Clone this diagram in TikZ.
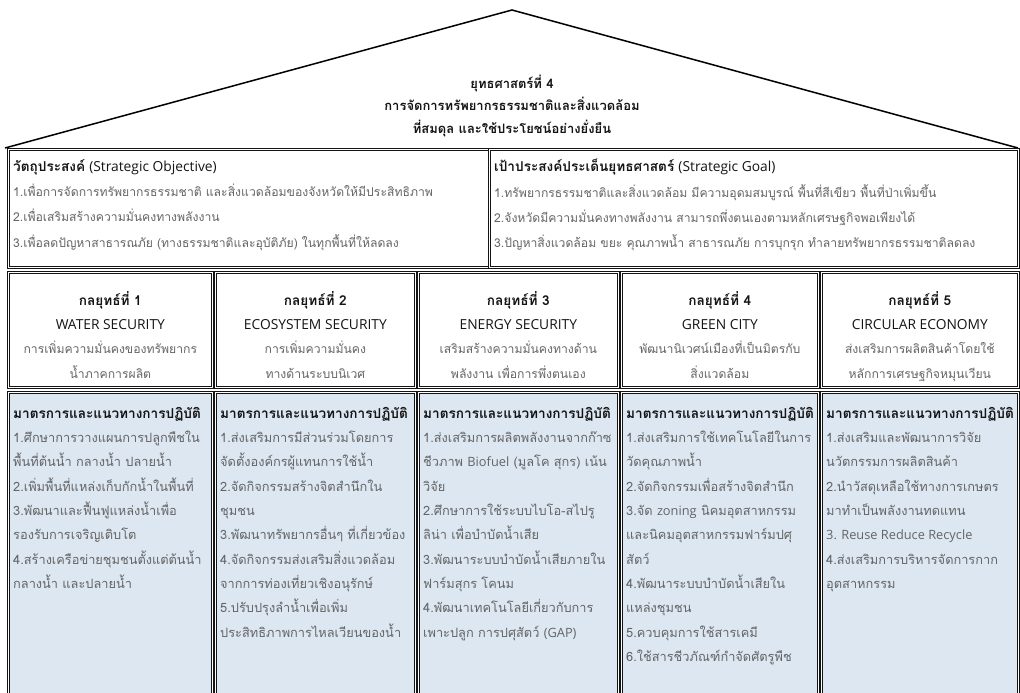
\documentclass[tikz,border=0pt]{standalone}
\usepackage{fontspec}
\setmainfont[Script=Thai]{Loma}
\newfontfamily\enfont{Open Sans}
\usetikzlibrary{positioning}
\definecolor{mblue}{RGB}{221,231,242}
\definecolor{mgray}{RGB}{100,100,100}
\definecolor{mdark}{RGB}{20,20,20}
\tikzset{framebox/.style = {draw=mdark, double, double distance=1.3pt, line width=0.7pt,
                            anchor=north west, inner sep=0}}
\tikzset{measbox/.style = {framebox, fill=mblue}}
\tikzset{headtext/.style = {font=\bfseries\fontsize{13}{22.5}\selectfont, text=mdark, align=center}}
\tikzset{bodytext/.style = {font=\fontsize{12.2}{25.3}\selectfont, text=mgray, align=left, inner sep=0}}
\tikzset{strattext/.style = {font=\fontsize{12.2}{24.3}\selectfont, text=mgray, align=center, inner sep=0}}
\tikzset{meastext/.style = {font=\fontsize{12.8}{24.3}\selectfont, text=mgray, align=left, inner sep=0}}
\newcommand{\hd}[1]{{\color{mdark}\bfseries\fontsize{13.6}{10}\selectfont #1}}
\newcommand{\en}[1]{{\enfont #1}}
\newcommand{\hden}[1]{{\color{mdark}\enfont\fontsize{13.8}{10}\selectfont #1}}

\begin{document}
\begin{tikzpicture}[x=1pt, y=-1pt]
      \useasboundingbox (0,0) rectangle (1020,693);
      \clip (0,0) rectangle (1020,693);
      % roof
      \draw [line width=1.5pt] (5,148) -- (512,10) -- (1018,148);
      \node [headtext] (title) at (512,106) {ยุทธศาสตร์ที่ 4\\การจัดการทรัพยากรธรรมชาติและสิ่งแวดล้อม\\ที่สมดุล และใช้ประโยชน์อย่างยั่งยืน};
      % objective and goal
      \node [framebox, minimum width=481pt, minimum height=118pt] (objbox) at (8,149) {};
      \node [framebox, minimum width=529pt, minimum height=118pt] (goalbox) at (489,149) {};
      \node [bodytext, below right=10pt and 5pt of objbox.north west] (objtext) {\hd{วัตถุประสงค์} \hden{(Strategic Objective)}\\
        1.เพื่อการจัดการทรัพยากรธรรมชาติ และสิ่งแวดล้อมของจังหวัดให้มีประสิทธิภาพ\\
        2.เพื่อเสริมสร้างความมั่นคงทางพลังงาน\\
        3.เพื่อลดปัญหาสาธารณภัย (ทางธรรมชาติและอุบัติภัย) ในทุกพื้นที่ให้ลดลง};
      \node [bodytext, below right=10pt and 5pt of goalbox.north west] (goaltext) {\hd{เป้าประสงค์ประเด็นยุทธศาสตร์} \hden{(Strategic Goal)}\\
        1.ทรัพยากรธรรมชาติและสิ่งแวดล้อม มีความอุดมสมบูรณ์ พื้นที่สีเขียว พื้นที่ป่าเพิ่มขึ้น\\
        2.จังหวัดมีความมั่นคงทางพลังงาน สามารถพึ่งตนเองตามหลักเศรษฐกิจพอเพียงได้\\
        3.ปัญหาสิ่งแวดล้อม ขยะ คุณภาพน้ำ สาธารณภัย การบุกรุก ทำลายทรัพยากรธรรมชาติลดลง};
      % five strategies
      \foreach \i/\xl/\w in {1/8/204, 2/215/200, 3/418/200, 4/621/197, 5/821/197} {
        \node [framebox, minimum width=\w pt, minimum height=115pt] (s\i) at (\xl,272) {};
        \node [measbox, minimum width=\w pt, minimum height=320pt] (m\i) at (\xl,392) {};
      }
      \node [strattext, below=19pt of s1.north] (st1) {\hd{กลยุทธ์ที่ 1}\\\hden{WATER SECURITY}\\การเพิ่มความมั่นคงของทรัพยากร\\น้ำภาคการผลิต};
      \node [strattext, below=19pt of s2.north] (st2) {\hd{กลยุทธ์ที่ 2}\\\hden{ECOSYSTEM SECURITY}\\การเพิ่มความมั่นคง\\ทางด้านระบบนิเวศ};
      \node [strattext, below=19pt of s3.north] (st3) {\hd{กลยุทธ์ที่ 3}\\\hden{ENERGY SECURITY}\\เสริมสร้างความมั่นคงทางด้าน\\พลังงาน เพื่อการพึ่งตนเอง};
      \node [strattext, below=19pt of s4.north] (st4) {\hd{กลยุทธ์ที่ 4}\\\hden{GREEN CITY}\\พัฒนานิเวศน์เมืองที่เป็นมิตรกับ\\สิ่งแวดล้อม};
      \node [strattext, below=19pt of s5.north] (st5) {\hd{กลยุทธ์ที่ 5}\\\hden{CIRCULAR ECONOMY}\\ส่งเสริมการผลิตสินค้าโดยใช้\\หลักการเศรษฐกิจหมุนเวียน};
      % measures
      \node [meastext, below right=15pt and 5pt of m1.north west] (mt1) {\hd{มาตรการและแนวทางการปฏิบัติ}\\
        1.ศึกษาการวางแผนการปลูกพืชใน\\พื้นที่ต้นน้ำ กลางน้ำ ปลายน้ำ\\
        2.เพิ่มพื้นที่แหล่งเก็บกักน้ำในพื้นที่\\
        3.พัฒนาและฟื้นฟูแหล่งน้ำเพื่อ\\รองรับการเจริญเติบโต\\
        4.สร้างเครือข่ายชุมชนตั้งแต่ต้นน้ำ\\กลางน้ำ และปลายน้ำ};
      \node [meastext, below right=15pt and 5pt of m2.north west] (mt2) {\hd{มาตรการและแนวทางการปฏิบัติ}\\
        1.ส่งเสริมการมีส่วนร่วมโดยการ\\จัดตั้งองค์กรผู้แทนการใช้น้ำ\\
        2.จัดกิจกรรมสร้างจิตสำนึกใน\\ชุมชน\\
        3.พัฒนาทรัพยากรอื่นๆ ที่เกี่ยวข้อง\\
        4.จัดกิจกรรมส่งเสริมสิ่งแวดล้อม\\จากการท่องเที่ยวเชิงอนุรักษ์\\
        5.ปรับปรุงลำน้ำเพื่อเพิ่ม\\ประสิทธิภาพการไหลเวียนของน้ำ};
      \node [meastext, below right=15pt and 5pt of m3.north west] (mt3) {\hd{มาตรการและแนวทางการปฏิบัติ}\\
        1.ส่งเสริมการผลิตพลังงานจากก๊าซ\\ชีวภาพ \en{Biofuel} (มูลโค สุกร) เน้น\\วิจัย\\
        2.ศึกษาการใช้ระบบไบโอ-สไปรู\\ลิน่า เพื่อบำบัดน้ำเสีย\\
        3.พัฒนาระบบบำบัดน้ำเสียภายใน\\ฟาร์มสุกร โคนม\\
        4.พัฒนาเทคโนโลยีเกี่ยวกับการ\\เพาะปลูก การปศุสัตว์ \en{(GAP)}};
      \node [meastext, below right=15pt and 5pt of m4.north west] (mt4) {\hd{มาตรการและแนวทางการปฏิบัติ}\\
        1.ส่งเสริมการใช้เทคโนโลยีในการ\\วัดคุณภาพน้ำ\\
        2.จัดกิจกรรมเพื่อสร้างจิตสำนึก\\
        3.จัด \en{zoning} นิคมอุตสาหกรรม\\และนิคมอุตสาหกรรมฟาร์มปศุ\\สัตว์\\
        4.พัฒนาระบบบำบัดน้ำเสียใน\\แหล่งชุมชน\\
        5.ควบคุมการใช้สารเคมี\\
        6.ใช้สารชีวภัณฑ์กำจัดศัตรูพืช};
      \node [meastext, below right=15pt and 5pt of m5.north west] (mt5) {\hd{มาตรการและแนวทางการปฏิบัติ}\\
        1.ส่งเสริมและพัฒนาการวิจัย\\นวัตกรรมการผลิตสินค้า\\
        2.นำวัสดุเหลือใช้ทางการเกษตร\\มาทำเป็นพลังงานทดแทน\\
        \en{3. Reuse Reduce Recycle}\\
        4.ส่งเสริมการบริหารจัดการกาก\\อุตสาหกรรม};
\end{tikzpicture}
\end{document}
